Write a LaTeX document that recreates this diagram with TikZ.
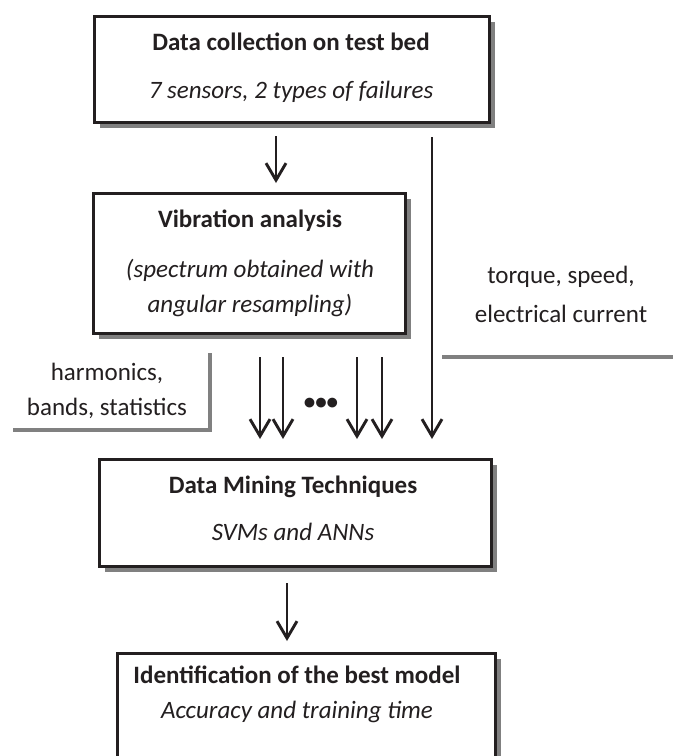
\documentclass[tikz,border=0pt]{standalone}
\usepackage{fontspec}
\setmainfont{Carlito}
\usetikzlibrary{arrows.meta,shadows}
\definecolor{shadowgray}{HTML}{808080}
\definecolor{inkblack}{HTML}{231F20}
\tikzset{
  box/.style={draw=inkblack, line width=3pt, fill=white, rectangle, inner sep=0pt,
    drop shadow={shadow xshift=5.5pt, shadow yshift=-5.5pt, fill=shadowgray, opacity=1}},
  ttl/.style={anchor=base, font=\fontsize{25}{29}\selectfont\bfseries, text=inkblack, inner sep=0pt},
  sub/.style={anchor=base, font=\fontsize{25}{29}\selectfont\itshape, text=inkblack, inner sep=0pt},
  lbl/.style={anchor=base, font=\fontsize{25}{29}\selectfont, text=inkblack, inner sep=0pt},
  arr/.style={draw=inkblack, line width=2.9pt, -{Straight Barb[length=17pt, width=20pt, line width=2.9pt]}},
  grayline/.style={draw=shadowgray, line width=4.5pt}
}
\begin{document}
\begin{tikzpicture}[x=1pt,y=-1pt]
\useasboundingbox (0,0) rectangle (673,756);
\clip (0,0) rectangle (673,756);
% boxes
\node[box, minimum width=395pt, minimum height=106pt] (b1) at (291.5,69) {};
\node[box, minimum width=312pt, minimum height=140pt] (b2) at (249,263) {};
\node[box, minimum width=392pt, minimum height=107pt] (b3) at (295,512.5) {};
\node[box, minimum width=378pt, minimum height=130pt] (b4) at (306,718) {};
% box texts
\node[ttl] (t1a) at (291,50) {Data collection on test bed};
\node[sub] (t1b) at (291,98) {7 sensors, 2 types of failures};
\node[ttl] (t2a) at (250,227) {Vibration analysis};
\node[sub] (t2b) at (250,277) {(spectrum obtained with};
\node[sub] (t2c) at (250,312) {angular resampling)};
\node[ttl] (t3a) at (293,493) {Data Mining Techniques};
\node[sub] (t3b) at (293,540) {SVMs and ANNs};
\node[ttl] (t4a) at (297,683) {Identification of the best model};
\node[sub] (t4b) at (297,718) {Accuracy and training time};
% side labels
\node[lbl] (l1a) at (107,380) {harmonics,};
\node[lbl] (l1b) at (107,415) {bands, statistics};
\node[lbl] (l2a) at (561,283) {torque, speed,};
\node[lbl] (l2b) at (561,322) {electrical current};
\coordinate (g1a) at (210,353);
\coordinate (g1b) at (210,430);
\coordinate (g1c) at (13,430);
\draw[grayline] (g1a) -- (g1b) -- (g1c);
\coordinate (g2a) at (442,357);
\coordinate (g2b) at (673,357);
\draw[grayline] (g2a) -- (g2b);
% arrows
\coordinate (a1s) at (276,136);
\coordinate (a1e) at (276,183);
\draw[arr] (a1s) -- (a1e);
\coordinate (a2s) at (432,137);
\coordinate (a2e) at (432,439);
\draw[arr] (a2s) -- (a2e);
\foreach \xx/\nm in {260/p1,283/p2,357/p3,382/p4}{
  \coordinate (\nm s) at (\xx,357);
  \coordinate (\nm e) at (\xx,439);
  \draw[arr] (\nm s) -- (\nm e);
}
\node[anchor=center, inner sep=0pt, font=\fontsize{23}{25}\selectfont\bfseries, text=inkblack] (dots) at (321,404) {•••};
\coordinate (a3s) at (287,583);
\coordinate (a3e) at (287,641);
\draw[arr] (a3s) -- (a3e);
\end{tikzpicture}
\end{document}
